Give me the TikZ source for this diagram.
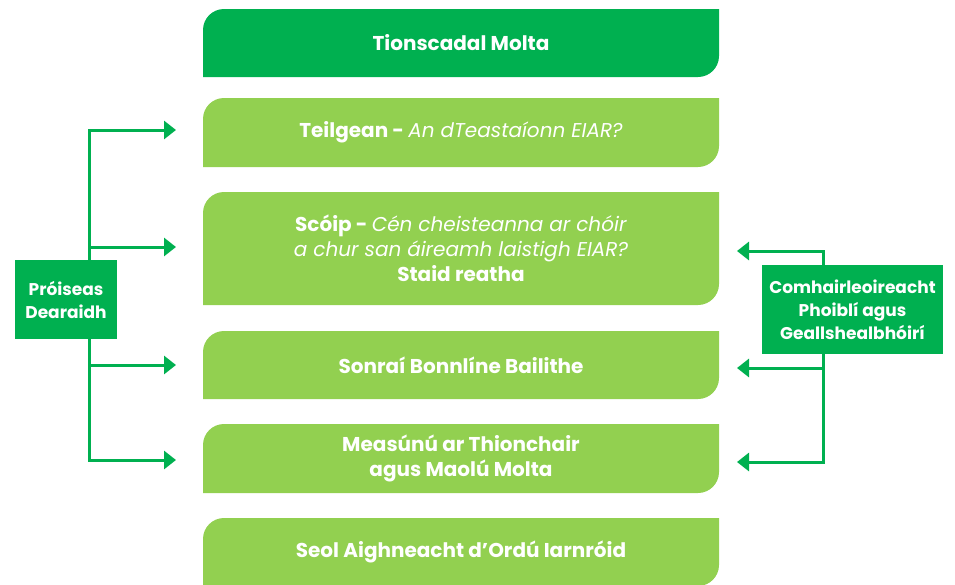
\documentclass[tikz,border=0pt]{standalone}
\usepackage{fontspec}
\setmainfont{Poppins}
\usetikzlibrary{arrows.meta}

\definecolor{darkgreen}{RGB}{0,176,80}
\definecolor{lightgreen}{RGB}{146,208,80}

\tikzset{
    stage/.style={minimum width=516pt, inner sep=0pt, text=white, align=center,
        font=\fontsize{20}{25}\selectfont\bfseries,
        path picture={
            \fill[#1] (path picture bounding box.south west)
                -- ([yshift=-21pt]path picture bounding box.north west)
                arc[start angle=180, end angle=90, radius=21pt]
                -- (path picture bounding box.north east)
                -- ([yshift=21pt]path picture bounding box.south east)
                arc[start angle=0, end angle=-90, radius=21pt]
                -- cycle;
        }},
    side/.style={fill=darkgreen, text=white, align=center, inner sep=0pt,
        font=\fontsize{17}{23}\selectfont\bfseries},
    link/.style={draw=darkgreen, line width=3pt, -{Triangle[length=12pt,width=18pt]}}
}

\begin{document}
\begin{tikzpicture}[x=1pt,y=1pt]
    \useasboundingbox (0,0) rectangle (955,-584);

        % stages
        \node[stage=darkgreen, minimum height=68pt] (project) at (461,-43) {Tionscadal Molta};
        \node[stage=lightgreen, minimum height=69pt] (screening) at (461,-132.5)
            {Teilgean - \textit{\mdseries An dTeastaíonn EIAR?}};
        \node[stage=lightgreen, minimum height=113pt] (scoping) at (461,-248.5)
            {Scóip - \textit{\mdseries Cén cheisteanna ar chóir}\\
             \textit{\mdseries a chur san áireamh laistigh EIAR?}\\
             Staid reatha};
        \node[stage=lightgreen, minimum height=68pt] (baseline) at (461,-365) {Sonraí Bonnlíne Bailithe};
        \node[stage=lightgreen, minimum height=69pt] (impact) at (461,-458.5)
            {Measúnú ar Thionchair\\agus Maolú Molta};
        \node[stage=lightgreen, minimum height=68pt] (submit) at (461,-552)
            {Seol Aighneacht d’Ordú Iarnróid};

        % arrow ends
        \coordinate (lin1) at (176,-130);
        \coordinate (lin2) at (176,-247);
        \coordinate (lin3) at (176,-365);
        \coordinate (lin4) at (176,-460);
        \coordinate (lspine) at (89,0);
        \coordinate (rin1) at (737,-251);
        \coordinate (rin2) at (737,-368);
        \coordinate (rin3) at (737,-462);
        \coordinate (rspine) at (823,0);

        % connectors first, boxes on top
        \draw[link] (66,-299.5 -| lspine) |- (lin1);
        \draw[link] (66,-299.5 -| lspine) |- (lin2);
        \draw[link] (66,-299.5 -| lspine) |- (lin3);
        \draw[link] (66,-299.5 -| lspine) |- (lin4);
        \draw[link] (852.5,-309.5 -| rspine) |- (rin1);
        \draw[link] (852.5,-309.5 -| rspine) |- (rin2);
        \draw[link] (852.5,-309.5 -| rspine) |- (rin3);

        \node[side, minimum width=102pt, minimum height=79pt] (design) at (66,-299.5)
            {Próiseas\\Dearaidh};
        \node[side, minimum width=181pt, minimum height=89pt] (consult) at (852.5,-309.5)
            {Comhairleoireacht\\Phoiblí agus\\Geallshealbhóirí};
\end{tikzpicture}
\end{document}
